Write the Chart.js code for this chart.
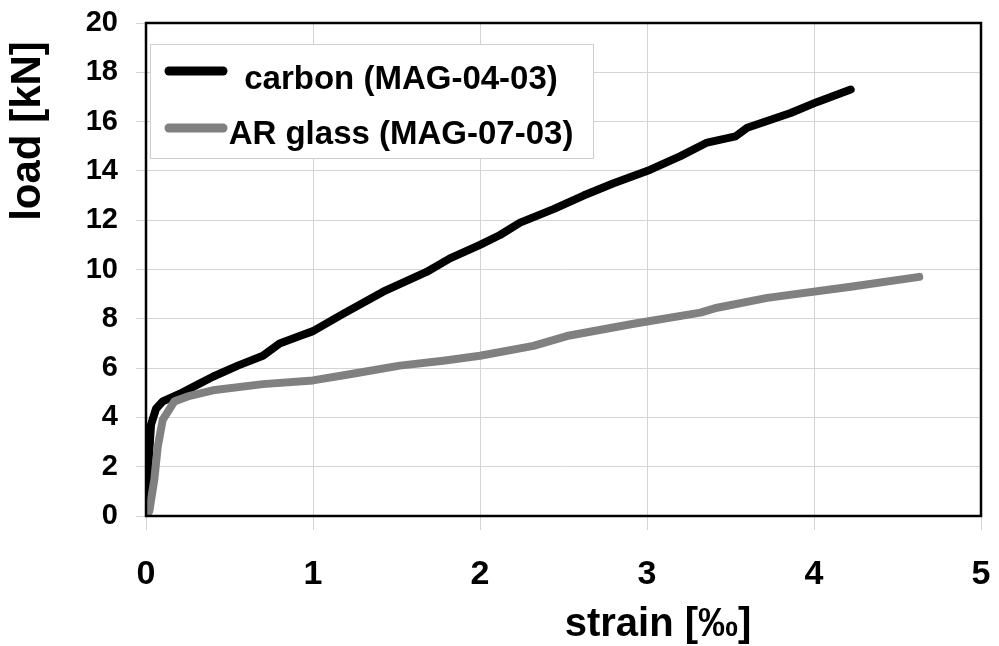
<!DOCTYPE html>
<html>
<head>
<meta charset="utf-8">
<script src="https://cdn.jsdelivr.net/npm/chart.js@4/dist/chart.umd.min.js"></script>
<style>
  html, body { margin: 0; padding: 0; background: #fff; }
  #wrap { width: 999px; height: 646px; }
</style>
</head>
<body>
<div id="wrap"><canvas id="chart" width="999" height="646"></canvas></div>
<script>
// ----------------------------------------
// Data
// ----------------------------------------

// strain [‰] / load [kN], carbon (MAG-04-03)
var carbonStrain = [0, 0.01, 0.03, 0.06, 0.1, 0.2, 0.3, 0.4, 0.55, 0.7, 0.8, 0.92, 1.0, 1.18, 1.42, 1.68, 1.82, 2.0, 2.12, 2.24, 2.44, 2.62, 2.8, 3.02, 3.2, 3.36, 3.53, 3.6, 3.86, 4.02, 4.22];
var carbonLoad   = [0, 1.6, 3.7, 4.35, 4.65, 4.95, 5.3, 5.65, 6.1, 6.5, 7.0, 7.3, 7.5, 8.2, 9.1, 9.9, 10.45, 11.0, 11.4, 11.9, 12.45, 13.0, 13.5, 14.05, 14.6, 15.15, 15.4, 15.75, 16.35, 16.8, 17.3];

// strain [‰] / load [kN], AR glass (MAG-07-03)
var glassStrain = [0, 0.02, 0.05, 0.07, 0.1, 0.17, 0.25, 0.4, 0.7, 1.0, 1.22, 1.52, 1.78, 2.0, 2.32, 2.52, 2.92, 3.32, 3.42, 3.72, 4.22, 4.63];
var glassLoad   = [0, 0.2, 1.5, 2.8, 3.9, 4.65, 4.85, 5.1, 5.35, 5.5, 5.75, 6.1, 6.3, 6.5, 6.9, 7.3, 7.8, 8.25, 8.45, 8.85, 9.3, 9.7];

var seriesNames = ['carbon (MAG-04-03)', 'AR glass (MAG-07-03)'];
var xTitle = 'strain [‰]';
var yTitle = 'load [kN]';

function toPoints(xs, ys) {
    return xs.map(function (x, i) {
        return { x: x, y: ys[i] };
    });
}

var FONT = "'Liberation Sans', Arial, Helvetica, sans-serif";

// Frame, legend box and axis titles
var decorPlugin = {
    id: 'decor',
    afterDraw: function (chart) {
        var ctx = chart.ctx;
        var a = chart.chartArea;
        ctx.save();

        // plot frame
        ctx.strokeStyle = '#000';
        ctx.lineWidth = 2.5;
        ctx.strokeRect(a.left, a.top, a.right - a.left, a.bottom - a.top);

        // legend box
        var bx = a.left + 4, by = a.top + 21, bw = 443, bh = 114;
        ctx.fillStyle = '#fff';
        ctx.fillRect(bx, by, bw, bh);
        ctx.strokeStyle = '#cfcfcf';
        ctx.lineWidth = 1;
        ctx.strokeRect(bx + 0.5, by + 0.5, bw, bh);

        var rows = [{ lineY: by + 27, base: by + 45 }, { lineY: by + 84, base: by + 100 }];
        chart.data.datasets.forEach(function (ds, i) {
            var r = rows[i];
            ctx.strokeStyle = ds.borderColor;
            ctx.lineWidth = 9;
            ctx.lineCap = 'round';
            ctx.beginPath();
            ctx.moveTo(bx + 19, r.lineY);
            ctx.lineTo(bx + 73, r.lineY);
            ctx.stroke();

            ctx.fillStyle = '#000';
            ctx.font = 'bold 33px ' + FONT;
            ctx.textAlign = 'center';
            ctx.textBaseline = 'alphabetic';
            ctx.fillText(ds.label, bx + 251, r.base);
        });

        // axis titles
        ctx.fillStyle = '#000';
        ctx.font = 'bold 40px ' + FONT;
        ctx.textAlign = 'center';
        ctx.textBaseline = 'alphabetic';
        ctx.fillText(xTitle, 658, 636);

        ctx.font = 'bold 42px ' + FONT;
        ctx.translate(28, 131);
        ctx.rotate(-Math.PI / 2);
        ctx.textBaseline = 'middle';
        ctx.fillText(yTitle, 0, 0);
        ctx.restore();
    }
};

var ctx = document.getElementById('chart').getContext('2d');
var config = {
    type: 'line',
    data: {
        datasets: [{
            label: seriesNames[0],
            data: toPoints(carbonStrain, carbonLoad),
            borderColor: '#000000',
            borderWidth: 8,
            pointRadius: 0,
            tension: 0,
            borderCapStyle: 'round',
            borderJoinStyle: 'round',
            order: 1
        }, {
            label: seriesNames[1],
            data: toPoints(glassStrain, glassLoad),
            borderColor: '#808080',
            borderWidth: 8,
            pointRadius: 0,
            tension: 0,
            borderCapStyle: 'round',
            borderJoinStyle: 'round',
            order: 0
        }]
    },
    options: {
        responsive: false,
        animation: false,
        layout: { padding: { top: 23, right: 18, left: 0, bottom: 0 } },
        plugins: {
            legend: { display: false },
            tooltip: { enabled: false }
        },
        scales: {
            x: {
                type: 'linear',
                min: 0,
                max: 5,
                afterFit: function (s) {
                    s.height = 130;
                    s.paddingLeft = 0;
                    s.paddingRight = 0;
                },
                ticks: {
                    stepSize: 1,
                    padding: 24,
                    color: '#000',
                    font: { family: FONT, size: 34, weight: 'bold' }
                },
                grid: { color: '#d4d4d4', lineWidth: 1, tickLength: 14 },
                border: { display: false }
            },
            y: {
                type: 'linear',
                min: 0,
                max: 20,
                afterFit: function (s) {
                    s.width = 146;
                    s.paddingTop = 0;
                    s.paddingBottom = 0;
                },
                ticks: {
                    stepSize: 2,
                    padding: 18,
                    color: '#000',
                    font: { family: FONT, size: 29, weight: 'bold' }
                },
                grid: { color: '#d4d4d4', lineWidth: 1, tickLength: 10 },
                border: { display: false }
            }
        }
    },
    plugins: [decorPlugin]
};
var chart = new Chart(ctx, config);
</script>
</body>
</html>
